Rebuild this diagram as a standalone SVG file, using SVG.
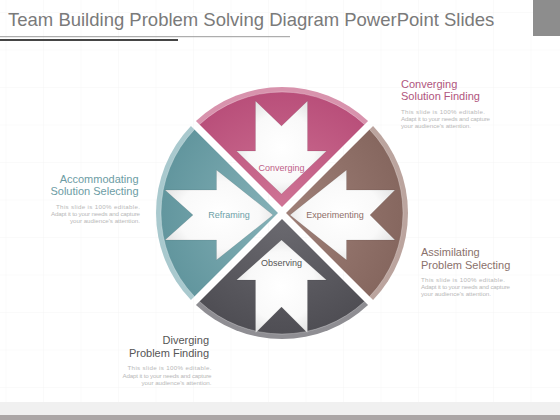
<svg xmlns="http://www.w3.org/2000/svg" width="560" height="420" viewBox="0 0 560 420">
  <defs>
    <pattern id="grid" x="5.5" y="12" width="37.5" height="37.5" patternUnits="userSpaceOnUse">
      <path d="M0,0 V37.5 M0,0 H37.5" fill="none" stroke="#f1f1f1" stroke-width="0.8"/>
    </pattern>
    <radialGradient id="gPink" gradientUnits="userSpaceOnUse" cx="282" cy="213" r="121">
      <stop offset="0" stop-color="#d07596"/>
      <stop offset="1" stop-color="#b94f7a"/>
    </radialGradient>
    <radialGradient id="gTeal" gradientUnits="userSpaceOnUse" cx="282" cy="213" r="121">
      <stop offset="0" stop-color="#86b2b8"/>
      <stop offset="1" stop-color="#62969e"/>
    </radialGradient>
    <radialGradient id="gBrown" gradientUnits="userSpaceOnUse" cx="282" cy="213" r="121">
      <stop offset="0" stop-color="#a08179"/>
      <stop offset="1" stop-color="#86675f"/>
    </radialGradient>
    <radialGradient id="gDark" gradientUnits="userSpaceOnUse" cx="282" cy="213" r="121">
      <stop offset="0" stop-color="#6c6b71"/>
      <stop offset="1" stop-color="#4f4e54"/>
    </radialGradient>
    <radialGradient id="gArrow" cx="0.5" cy="0.5" r="0.62">
      <stop offset="0" stop-color="#ffffff"/>
      <stop offset="0.6" stop-color="#f9f9f9"/>
      <stop offset="1" stop-color="#dcdcdc"/>
    </radialGradient>
  </defs>
  <style>
    .title { font-family: "Liberation Sans", Arial, sans-serif; font-size: 18.5px; fill: #7a7a7a; }
    .head { font-family: "Liberation Sans", Arial, sans-serif; font-size: 11px; }
    .small { font-family: "Liberation Sans", Arial, sans-serif; font-size: 6.2px; fill: #b8b8b8; }
    .lbl { font-family: "Liberation Sans", Arial, sans-serif; font-size: 9px; text-anchor: middle; }
    .arrow { fill: url(#gArrow); stroke: #000000; stroke-opacity: 0.08; stroke-width: 1; }
    .inner { stroke: #ffffff; stroke-opacity: 0.35; stroke-width: 0.8; }
  </style>

  <rect x="0" y="0" width="560" height="420" fill="#ffffff"/>
  <rect x="0" y="0" width="560" height="402" fill="url(#grid)"/>

  <!-- header -->
  <g id="header">
    <text class="title" x="8" y="26">Team Building Problem Solving Diagram PowerPoint Slides</text>
    <line x1="0" y1="36.7" x2="290" y2="36.7" stroke="#9a9a9a" stroke-width="1"/>
    <line x1="0" y1="40" x2="178" y2="40" stroke="#454545" stroke-width="2"/>
    <rect x="533" y="0" width="27" height="36" fill="#8d8d8d"/>
  </g>

  <!-- footer -->
  <rect x="0" y="402" width="560" height="13" fill="#f0f0f0"/>
  <rect x="0" y="415" width="560" height="5" fill="#aba6a6"/>

  <!-- segments -->
  <g id="seg-converging">
    <path d="M195.95,120.95 A126,126 0 0 1 368.05,120.95 L282,207 Z" fill="#d893ad"/>
    <path class="inner" d="M199.49,124.49 A121,121 0 0 1 364.51,124.49 L282,207 Z" fill="url(#gPink)"/>
    <path class="arrow" d="M255.5,101 L281.5,126 L307.5,101 L307.5,151 L326.5,151 L281.5,194 L236.5,151 L255.5,151 Z"/>
    <text class="lbl" x="281.5" y="170.5" fill="#c06088">Converging</text>
  </g>
  <g id="seg-reframing">
    <path d="M190.93,300.07 A126,126 0 0 1 190.93,125.93 L278,213 Z" fill="#a9c9ce"/>
    <path class="inner" d="M194.46,296.54 A121,121 0 0 1 194.46,129.46 L278,213 Z" fill="url(#gTeal)"/>
    <path class="arrow" d="M165,190 L193,215 L165,240 L216.5,240 L216.5,260 L273,215 L216.5,170 L216.5,190 Z"/>
    <text class="lbl" x="229" y="218.2" fill="#6d9fa7">Reframing</text>
  </g>
  <g id="seg-experimenting">
    <path d="M373.07,125.93 A126,126 0 0 1 373.07,300.07 L286,213 Z" fill="#bba49e"/>
    <path class="inner" d="M369.54,129.46 A121,121 0 0 1 369.54,296.54 L286,213 Z" fill="url(#gBrown)"/>
    <path class="arrow" d="M395,190 L370,215 L395,240 L346.5,240 L346.5,260 L290,215 L346.5,170 L346.5,190 Z"/>
    <text class="lbl" x="335" y="218.2" fill="#8e6f68">Experimenting</text>
  </g>
  <g id="seg-observing">
    <path d="M368.05,305.05 A126,126 0 0 1 195.95,305.05 L282,219 Z" fill="#8f8e93"/>
    <path class="inner" d="M364.51,301.51 A121,121 0 0 1 199.49,301.51 L282,219 Z" fill="url(#gDark)"/>
    <path class="arrow" d="M255.5,333 L281.5,307 L307.5,333 L307.5,280 L326.5,280 L281.5,240 L236.5,280 L255.5,280 Z"/>
    <text class="lbl" x="281.5" y="266" fill="#555555">Observing</text>
  </g>

  <!-- side texts -->
  <g id="txt-converging">
    <text class="head" x="401" y="87.5" fill="#b0557d">Converging</text>
    <text class="head" x="401" y="100" fill="#b0557d">Solution Finding</text>
    <text class="small" x="401" y="113.5" textLength="84" lengthAdjust="spacing">This slide is 100% editable.</text>
    <text class="small" x="401" y="120.5" textLength="89" lengthAdjust="spacing">Adapt it to your needs and capture</text>
    <text class="small" x="401" y="127.5" textLength="70" lengthAdjust="spacing">your audience's attention.</text>
  </g>
  <g id="txt-accommodating" text-anchor="end">
    <text class="head" x="138.5" y="182.5" fill="#6c9ca4">Accommodating</text>
    <text class="head" x="138.5" y="195" fill="#6c9ca4">Solution Selecting</text>
    <text class="small" x="140" y="208.5" textLength="84" lengthAdjust="spacing">This slide is 100% editable.</text>
    <text class="small" x="140" y="215.5" textLength="89" lengthAdjust="spacing">Adapt it to your needs and capture</text>
    <text class="small" x="140" y="222.5" textLength="70" lengthAdjust="spacing">your audience's attention.</text>
  </g>
  <g id="txt-assimilating">
    <text class="head" x="421" y="256" fill="#8a716b">Assimilating</text>
    <text class="head" x="421" y="268.5" fill="#8a716b">Problem Selecting</text>
    <text class="small" x="421" y="282" textLength="84" lengthAdjust="spacing">This slide is 100% editable.</text>
    <text class="small" x="421" y="289" textLength="89" lengthAdjust="spacing">Adapt it to your needs and capture</text>
    <text class="small" x="421" y="296" textLength="70" lengthAdjust="spacing">your audience's attention.</text>
  </g>
  <g id="txt-diverging" text-anchor="end">
    <text class="head" x="209" y="344" fill="#555555">Diverging</text>
    <text class="head" x="209" y="356.5" fill="#555555">Problem Finding</text>
    <text class="small" x="211.5" y="370" textLength="84" lengthAdjust="spacing">This slide is 100% editable.</text>
    <text class="small" x="211.5" y="377.5" textLength="89" lengthAdjust="spacing">Adapt it to your needs and capture</text>
    <text class="small" x="211.5" y="385" textLength="70" lengthAdjust="spacing">your audience's attention.</text>
  </g>
</svg>
